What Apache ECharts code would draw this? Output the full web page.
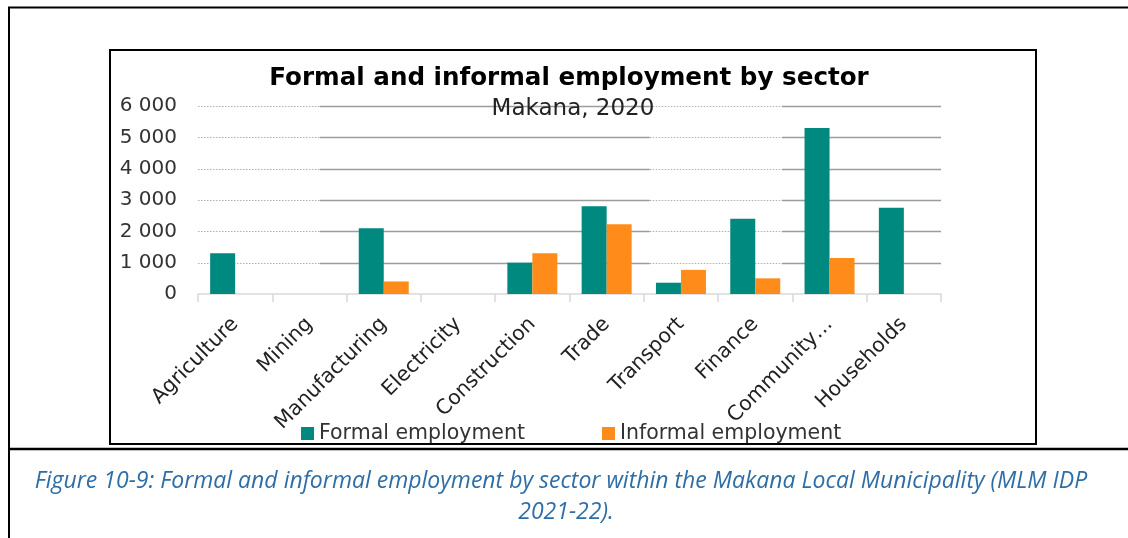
<!DOCTYPE html>
<html>
<head>
<meta charset="utf-8">
<script src="https://cdn.jsdelivr.net/npm/echarts@6/dist/echarts.min.js"></script>
<style>
  html, body { margin: 0; padding: 0; background: #ffffff; }
  #chart { width: 1128px; height: 538px; }
</style>
</head>
<body>
<div id="chart"></div>
<script>
// Employment by sector, Makana 2020
const sectors = ['Agriculture', 'Mining', 'Manufacturing', 'Electricity', 'Construction',
                 'Trade', 'Transport', 'Finance', 'Community…', 'Households'];
const formalEmployment   = [1300, 0, 2100, 0, 1000, 2800, 360, 2400, 5300, 2750];
const informalEmployment = [0,    0,  400, 0, 1300, 2230, 770,  500, 1150,    0];
const yTicks = [1000, 2000, 3000, 4000, 5000, 6000];

const chartTitle = 'Formal and informal employment by sector';
const chartSubtitle = 'Makana, 2020';
const captionLine1 = 'Figure 10-9: Formal and informal employment by sector within the Makana Local Municipality (MLM IDP';
const captionLine2 = '2021-22).';

const FONT = '"DejaVu Sans", Verdana, sans-serif';
const CAPTION_FONT = 'italic 23px "Open Sans", Lato, sans-serif';
const GRID = { left: 198, right: 187, top: 106, bottom: 244 };

const chart = echarts.init(document.getElementById('chart'), null, { renderer: 'canvas' });

const fmt = v => String(v).replace(/\B(?=(\d{3})+(?!\d))/g, ' ');

chart.setOption({
  animation: false,
  backgroundColor: '#ffffff',
  grid: GRID,
  legend: {
    left: 296, top: 418,
    itemWidth: 13, itemHeight: 13, itemGap: 77,
    icon: 'rect',
    textStyle: { fontFamily: FONT, fontSize: 20.5, color: '#333333' },
    data: ['Formal employment', 'Informal employment']
  },
  xAxis: {
    type: 'category',
    data: sectors,
    axisLine: { lineStyle: { color: '#d9d9d9', width: 1.5 } },
    axisTick: { show: true, length: 8, lineStyle: { color: '#d9d9d9', width: 1.5 } },
    axisLabel: { rotate: 45, margin: 27, fontFamily: FONT, fontSize: 20.5, color: '#222222', interval: 0 },
    splitLine: { show: false }
  },
  yAxis: {
    type: 'value',
    min: 0, max: 6000, interval: 1000,
    axisLine: { show: false },
    axisTick: { show: false },
    axisLabel: { margin: 21, fontFamily: FONT, fontSize: 20, color: '#333333', formatter: fmt },
    splitLine: { show: false }
  },
  series: [
    {
      name: 'Formal employment', type: 'bar', data: formalEmployment,
      barWidth: 25, barGap: '0%',
      itemStyle: { color: '#00897f' }
    },
    {
      name: 'Informal employment', type: 'bar', data: informalEmployment,
      barWidth: 25, barGap: '0%',
      itemStyle: { color: '#ff8c1a' }
    }
  ]
});

// Gridlines: alternating dotted and solid stretches, as in the source chart
const x0 = GRID.left, x1 = 1128 - GRID.right;
const stops = [0, 0.164, 0.608, 0.786, 1];
const gridEls = [];
yTicks.forEach(v => {
  const y = Math.round(chart.convertToPixel({ yAxisIndex: 0 }, v)) + 0.5;
  for (let i = 0; i < stops.length - 1; i++) {
    const a = x0 + (x1 - x0) * stops[i];
    const b = x0 + (x1 - x0) * stops[i + 1];
    const dotted = i % 2 === 0;
    gridEls.push({
      type: 'line', z: 0,
      shape: { x1: a, y1: y, x2: b, y2: y },
      style: dotted
        ? { stroke: '#b0b0b0', lineWidth: 1.2, lineDash: [1.5, 1.5] }
        : { stroke: '#9c9c9c', lineWidth: 1.6 }
    });
  }
});

chart.setOption({
  graphic: [
    // page frame
    { type: 'line', shape: { x1: 8, y1: 7.5, x2: 1128, y2: 7.5 }, style: { stroke: '#000', lineWidth: 2 } },
    { type: 'line', shape: { x1: 9, y1: 7, x2: 9, y2: 538 }, style: { stroke: '#000', lineWidth: 2 } },
    { type: 'line', shape: { x1: 8, y1: 449, x2: 1128, y2: 449 }, style: { stroke: '#000', lineWidth: 2.5 } },
    // chart box
    { type: 'rect', shape: { x: 110, y: 50, width: 926, height: 394 },
      style: { fill: null, stroke: '#000', lineWidth: 2 } },
    ...gridEls,
    // titles
    { type: 'text', x: 569, y: 79, z: 5,
      style: { text: chartTitle, font: 'bold 24.6px ' + FONT, fill: '#000', align: 'center', verticalAlign: 'middle' } },
    { type: 'text', x: 573, y: 109, z: 5,
      style: { text: chartSubtitle, font: '23px ' + FONT, fill: '#222', align: 'center', verticalAlign: 'middle' } },
    // caption
    { type: 'text', x: 561, y: 481,
      style: { text: captionLine1, font: CAPTION_FONT, fill: '#2e6ea6', align: 'center', verticalAlign: 'middle' } },
    { type: 'text', x: 566, y: 512,
      style: { text: captionLine2, font: CAPTION_FONT, fill: '#2e6ea6', align: 'center', verticalAlign: 'middle' } }
  ]
});
</script>
</body>
</html>
